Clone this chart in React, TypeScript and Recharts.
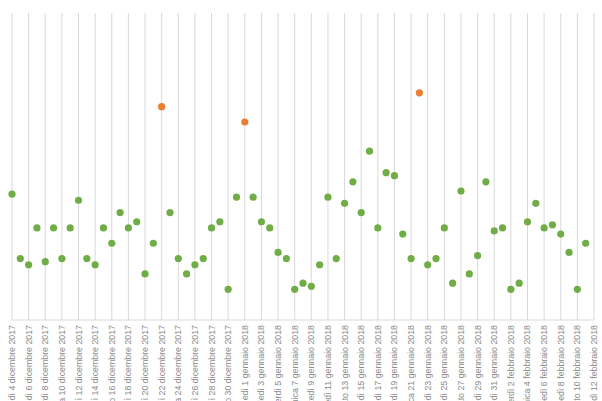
import { ScatterChart, Scatter, XAxis, YAxis, CartesianGrid } from "recharts";

// one entry per day, 4 dicembre 2017 .. 12 febbraio 2018 (index = day)
const valori: (number | null)[] = [
  41, 20, 18, 30, 19, 30, 20, 30, 39, 20,
  18, 30, 25, 35, 30, 32, 15, 25, null, 35,
  20, 15, 18, 20, 30, 32, 10, 40, null, 40,
  32, 30, 22, 20, 10, 12, 11, 18, 40, 20,
  38, 45, 35, 55, 30, 48, 47, 28, 20, null,
  18, 20, 30, 12, 42, 15, 21, 45, 29, 30,
  10, 12, 32, 38, 30, 31, 28, 22, 10, 25,
  null,
];

const picchiGiorni = [18, 28, 49];
const picchiValori = [69.5, 64.5, 74];

const etichette = [
  "lunedì 4 dicembre 2017",
  "mercoledì 6 dicembre 2017",
  "venerdì 8 dicembre 2017",
  "domenica 10 dicembre 2017",
  "martedì 12 dicembre 2017",
  "giovedì 14 dicembre 2017",
  "sabato 16 dicembre 2017",
  "lunedì 18 dicembre 2017",
  "mercoledì 20 dicembre 2017",
  "venerdì 22 dicembre 2017",
  "domenica 24 dicembre 2017",
  "martedì 26 dicembre 2017",
  "giovedì 28 dicembre 2017",
  "sabato 30 dicembre 2017",
  "lunedì 1 gennaio 2018",
  "mercoledì 3 gennaio 2018",
  "venerdì 5 gennaio 2018",
  "domenica 7 gennaio 2018",
  "martedì 9 gennaio 2018",
  "giovedì 11 gennaio 2018",
  "sabato 13 gennaio 2018",
  "lunedì 15 gennaio 2018",
  "mercoledì 17 gennaio 2018",
  "venerdì 19 gennaio 2018",
  "domenica 21 gennaio 2018",
  "martedì 23 gennaio 2018",
  "giovedì 25 gennaio 2018",
  "sabato 27 gennaio 2018",
  "lunedì 29 gennaio 2018",
  "mercoledì 31 gennaio 2018",
  "venerdì 2 febbraio 2018",
  "domenica 4 febbraio 2018",
  "martedì 6 febbraio 2018",
  "giovedì 8 febbraio 2018",
  "sabato 10 febbraio 2018",
  "lunedì 12 febbraio 2018",
];

const datiVerdi = valori
  .map((v, i) => ({ giorno: i, valore: v }))
  .filter((d) => d.valore !== null);
const datiArancio = picchiGiorni.map((g, k) => ({ giorno: g, valore: picchiValori[k] }));
const ticks = etichette.map((_, k) => k * 2);

const Punto = (color: string) => (props: any) =>
  <circle cx={props.cx} cy={props.cy} r={3.6} fill={color} />;

const Tick = (props: any) => {
  const { x, y, payload } = props;
  return (
    <g transform={`translate(${x},${y})`}>
      <text
        x={0}
        y={0}
        dy={3}
        textAnchor="end"
        transform="rotate(-90)"
        fontSize={8.8}
        fill="#8a8a8a"
        fontFamily="Liberation Sans, Arial, sans-serif"
      >
        {etichette[payload.value / 2]}
      </text>
    </g>
  );
};

export default function App() {
  return (
    <div style={{ position: "absolute", left: 0, top: 0 }}>
      <ScatterChart width={602} height={401} margin={{ top: 13, right: 8, bottom: 0, left: 12 }}>
        <CartesianGrid horizontal={false} stroke="#d9d9d9" />
        <XAxis
          type="number"
          dataKey="giorno"
          domain={[0, 70]}
          ticks={ticks}
          interval={0}
          height={81}
          stroke="#d9d9d9"
          tickLine={false}
          tickSize={0}
          tickMargin={5}
          tick={<Tick />}
        />
        <YAxis type="number" dataKey="valore" domain={[0, 100]} hide />
        <Scatter data={datiVerdi} shape={Punto("#70ad47")} isAnimationActive={false} />
        <Scatter data={datiArancio} shape={Punto("#ed7d31")} isAnimationActive={false} />
      </ScatterChart>
    </div>
  );
}
